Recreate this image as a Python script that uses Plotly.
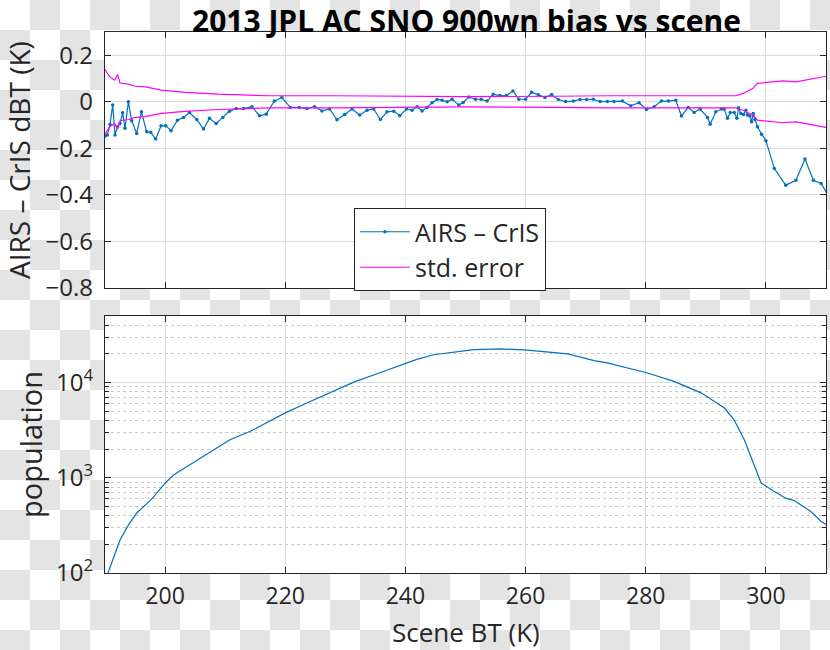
import plotly.graph_objects as go
import numpy as np

# ---------------- data ----------------
bias_x = [190.0, 190.39, 190.83, 191.28, 191.67, 192.06, 192.5, 192.94, 193.33, 193.89,
          194.44, 195.28, 196.06, 196.94, 197.61, 198.44, 199.33, 200.11, 201.0, 202.06,
          203.06, 204.06, 205.28, 206.39, 207.39, 208.5, 209.61, 210.72, 211.83, 213.06,
          214.44, 215.72, 216.83, 218.17, 219.44, 220.83, 222.33, 223.61, 224.89, 226.11,
          227.39, 228.61, 229.89, 231.11, 232.39, 233.61, 234.72, 235.83, 236.94, 238.06,
          239.06, 240.17, 241.11, 241.94, 242.78, 243.61, 244.44, 245.28, 246.11, 246.94,
          247.78, 248.89, 249.61, 250.56, 251.67, 252.61, 253.61, 254.61, 255.72, 256.83,
          257.89, 258.89, 260.0, 261.0, 262.11, 263.22, 264.33, 265.44, 266.67, 267.94,
          269.06, 270.17, 271.28, 272.39, 273.61, 274.72, 276.11, 277.5, 278.89, 280.11,
          281.39, 282.61, 283.78, 285.0, 285.94, 287.06, 288.06, 289.06, 290.28, 290.72,
          291.67, 292.61, 293.06, 293.61, 294.06, 294.72, 295.17, 295.44, 295.83, 296.28,
          296.67, 296.94, 297.33, 297.61, 297.89, 298.17, 298.61, 299.28, 300.0, 301.4,
          303.3, 305.0, 306.5, 307.9, 309.2, 310.3]
bias_y = [-0.147, -0.143, -0.097, -0.014, -0.143, -0.107, -0.093, -0.047, -0.114, 0.0,
          -0.081, -0.136, -0.043, -0.129, -0.131, -0.160, -0.103, -0.103, -0.124, -0.079,
          -0.067, -0.046, -0.076, -0.117, -0.071, -0.093, -0.067, -0.040, -0.029, -0.029,
          -0.021, -0.060, -0.053, 0.003, 0.019, -0.024, -0.024, -0.029, -0.021, -0.039,
          -0.031, -0.077, -0.054, -0.031, -0.057, -0.036, -0.031, -0.076, -0.043, -0.040,
          -0.060, -0.031, -0.036, -0.021, -0.039, -0.024, -0.004, 0.010, 0.007, 0.0,
          0.011, -0.014, -0.003, 0.021, 0.011, 0.011, 0.003, 0.033, 0.027, 0.027,
          0.047, 0.011, 0.011, 0.041, 0.030, 0.019, 0.031, 0.010, 0.001, 0.003,
          0.010, 0.010, 0.011, 0.001, 0.001, 0.001, 0.003, -0.017, -0.004, -0.033,
          -0.021, 0.003, 0.003, 0.007, -0.061, -0.024, -0.046, -0.031, -0.067, -0.096,
          -0.043, -0.031, -0.031, -0.071, -0.046, -0.046, -0.071, -0.026, -0.050, -0.054,
          -0.036, -0.057, -0.061, -0.086, -0.050, -0.076, -0.107, -0.139, -0.167, -0.287,
          -0.358, -0.337, -0.246, -0.337, -0.351, -0.400]

se_x = [190.0, 190.8, 191.6, 192.1, 192.5, 193.9, 195.0, 196.7, 199.4, 203.3, 208.9,
        217.2, 228.3, 244.7, 250.0, 265.0, 273.6, 290.0, 295.0, 296.2, 297.8, 298.6,
        302.8, 305.0, 308.9, 310.0]
se_y = [0.139, 0.107, 0.093, 0.117, 0.081, 0.076, 0.067, 0.064, 0.050, 0.041, 0.033,
        0.026, 0.026, 0.021, 0.022, 0.024, 0.026, 0.026, 0.026, 0.036, 0.057, 0.079,
        0.090, 0.086, 0.107, 0.110]

pop_x = [190.5, 192.5, 193.9, 195.3, 197.8, 200.0, 201.4, 204.7, 207.5, 210.8, 214.2,
         220.0, 223.6, 228.0, 231.4, 234.7, 238.0, 241.9, 244.7, 249.2, 251.4, 255.8,
         260.3, 267.0, 271.4, 273.6, 280.3, 284.7, 289.2, 293.1, 294.7, 296.4, 298.1,
         299.2, 301.4, 303.3, 304.7, 307.5, 309.2, 310.5]
pop_y = [100, 222, 320, 427, 600, 880, 1070, 1440, 1880, 2510, 3080, 4800, 6100, 8100,
         10100, 12000, 14300, 17500, 19600, 21400, 22200, 22600, 21900, 20000, 17000,
         16100, 12600, 10300, 7800, 5400, 4050, 2510, 1320, 880, 718, 611, 576, 442,
         347, 310]

x_ticks = [200, 220, 240, 260, 280, 300]
bias_ticks = [-0.8, -0.6, -0.4, -0.2, 0, 0.2]
pop_ticks = [100, 1000, 10000]
pop_ticktext = ["10<sup>2</sup>", "10<sup>3</sup>", "10<sup>4</sup>"]

# ---------------- layout geometry ----------------
W, H = 830, 650
L, R, T, B = 105, 4, 32, 77
PW, PH = W - L - R, H - T - B


def px2paper(px, py):
    return (px - L) / PW, (H - B - py) / PH


top_dom = [px2paper(0, 288)[1], 1.0]
bot_dom = [0.0, px2paper(0, 316)[1]]

FONT = "Open Sans"
TXT = "#262626"
GRID = "#dcdcdc"
BLUE = "#0072BD"
MAG = "#FF00FF"

fig = go.Figure()
fig.add_trace(go.Scatter(x=bias_x, y=bias_y, mode="lines+markers", name="AIRS \u2013 CrIS",
                         line=dict(color=BLUE, width=1.2), marker=dict(color=BLUE, size=3.5),
                         xaxis="x", yaxis="y"))
fig.add_trace(go.Scatter(x=se_x, y=se_y, mode="lines", name="std. error",
                         line=dict(color=MAG, width=1.2), xaxis="x", yaxis="y"))
fig.add_trace(go.Scatter(x=se_x, y=[-v for v in se_y], mode="lines", name="std. error",
                         showlegend=False, line=dict(color=MAG, width=1.2), xaxis="x", yaxis="y"))
fig.add_trace(go.Scatter(x=pop_x, y=pop_y, mode="lines", showlegend=False,
                         line=dict(color=BLUE, width=1.2), xaxis="x2", yaxis="y2"))

# checkerboard background (transparent-image look)
shapes = []
SQ = 30
for r in range(0, H // SQ + 1):
    for c in range(0, W // SQ + 1):
        if (r + c) % 2 == 1:
            x0, y0 = px2paper(c * SQ, r * SQ)
            x1, y1 = px2paper(min((c + 1) * SQ, W), min((r + 1) * SQ, H))
            shapes.append(dict(type="rect", xref="paper", yref="paper", x0=x0, x1=x1,
                               y0=y1, y1=y0, fillcolor="#e4e4e4", line=dict(width=0),
                               layer="below"))
for dom in (top_dom, bot_dom):
    shapes.append(dict(type="rect", xref="paper", yref="paper", x0=0, x1=1, y0=dom[0],
                       y1=dom[1], fillcolor="white", line=dict(width=0), layer="below"))

minor_vals = [k * 10 ** n for n in range(2, 5) for k in range(2, 10) if k * 10 ** n <= 50000]

axis_common = dict(showline=True, linecolor=TXT, linewidth=1.3, mirror="ticks",
                   ticks="inside", ticklen=6, tickcolor=TXT, showgrid=True,
                   gridcolor=GRID, gridwidth=1, zeroline=False,
                   tickfont=dict(family=FONT, size=24, color=TXT))

fig.update_layout(
    width=W, height=H,
    margin=dict(l=L, r=R, t=T, b=B),
    paper_bgcolor="white", plot_bgcolor="rgba(0,0,0,0)",
    shapes=shapes,
    showlegend=True,
    legend=dict(x=px2paper(354, 0)[0], y=px2paper(0, 208)[1], xanchor="left", yanchor="top",
                bgcolor="white", bordercolor=TXT, borderwidth=1,
                font=dict(family=FONT, size=25, color=TXT), tracegroupgap=0,
                itemwidth=50),
    xaxis=dict(domain=[0, 1], anchor="y", range=[190, 310], tickvals=x_ticks,
               showticklabels=False, **axis_common),
    yaxis=dict(domain=top_dom, anchor="x", range=[-0.8, 0.3], tickvals=bias_ticks,
               ticklabelstandoff=6, **axis_common),
    xaxis2=dict(domain=[0, 1], anchor="y2", range=[190, 310], tickvals=x_ticks,
                ticklabelstandoff=2, **axis_common),
    yaxis2=dict(domain=bot_dom, anchor="x2", type="log", range=[2, np.log10(50000)],
                tickvals=pop_ticks, ticktext=pop_ticktext, ticklabelstandoff=6,
                minor=dict(tickvals=minor_vals, ticks="inside", ticklen=4, tickcolor=TXT,
                           showgrid=True, griddash="dot", gridcolor="#c8c8c8", gridwidth=1),
                **axis_common),
)
fig.update_layout(xaxis2_tickfont_size=23)

ann = []
cx, cy = px2paper(466, 20.7)
ann.append(dict(text="<b>2013 JPL AC SNO 900wn bias vs scene</b>", x=cx, y=cy,
                xref="paper", yref="paper", showarrow=False, xanchor="center", yanchor="middle",
                font=dict(family=FONT, size=30, color="black")))
cx, cy = px2paper(19, 160)
ann.append(dict(text="AIRS \u2013 CrIS dBT (K)", x=cx, y=cy, xref="paper", yref="paper",
                showarrow=False, textangle=-90, xanchor="center", yanchor="middle",
                font=dict(family=FONT, size=28, color=TXT)))
cx, cy = px2paper(30, 445)
ann.append(dict(text="population", x=cx, y=cy, xref="paper", yref="paper",
                showarrow=False, textangle=-90, xanchor="center", yanchor="middle",
                font=dict(family=FONT, size=29, color=TXT)))
cx, cy = px2paper(466, 632)
ann.append(dict(text="Scene BT (K)", x=cx, y=cy, xref="paper", yref="paper",
                showarrow=False, xanchor="center", yanchor="middle",
                font=dict(family=FONT, size=26, color=TXT)))
fig.update_layout(annotations=ann)

fig.write_html("out.html", config={"displayModeBar": False},
               post_script="document.body.style.margin='0px';")
